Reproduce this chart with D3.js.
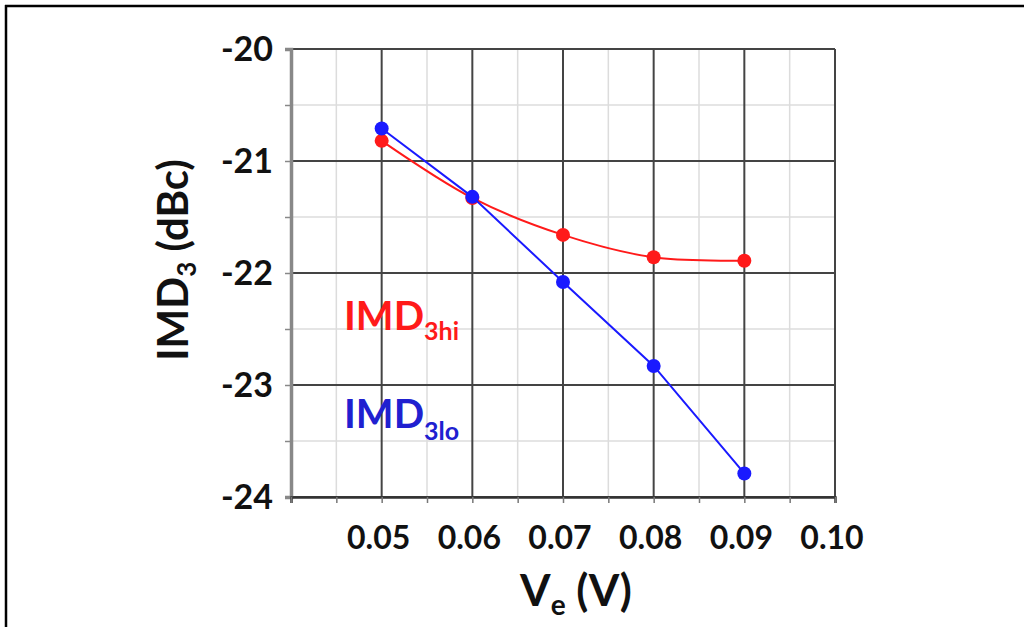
<!DOCTYPE html>
<html><head><meta charset="utf-8">
<script src="https://cdn.jsdelivr.net/npm/d3@7"></script>
<style>
html,body{margin:0;padding:0;background:#fff;}
svg{display:block;font-family:Lato,"Open Sans",sans-serif;font-weight:bold;}
</style></head>
<body><svg id="c" width="1024" height="627"></svg>
<script>
const ve = [0.05, 0.06, 0.07, 0.08, 0.09];
const imd3hi = [-20.82, -21.33, -21.66, -21.86, -21.89];
const imd3lo = [-20.71, -21.32, -22.08, -22.83, -23.79];
const xTicks = [0.05, 0.06, 0.07, 0.08, 0.09, 0.10];
const xTickLabels = ["0.05","0.06","0.07","0.08","0.09","0.10"];
const yTicks = [-20, -21, -22, -23, -24];
const yTickLabels = ["-20","-21","-22","-23","-24"];
const xMinor = [0.045, 0.055, 0.065, 0.075, 0.085, 0.095];
const yMinor = [-20.5, -21.5, -22.5, -23.5];

const svg = d3.select("#c");
const x = d3.scaleLinear().domain([0.04, 0.10]).range([291, 835]);
const y = d3.scaleLinear().domain([-24, -20]).range([497, 49]);

// outer frame (top + left)
svg.append("line").attr("x1",5).attr("x2",1024).attr("y1",6).attr("y2",6).attr("stroke","#000").attr("stroke-width",2.5);
svg.append("line").attr("x1",6).attr("x2",6).attr("y1",5).attr("y2",627).attr("stroke","#000").attr("stroke-width",2.5);

const g = svg.append("g");
g.selectAll(".vmin").data(xMinor).join("line")
  .attr("x1",d=>x(d)).attr("x2",d=>x(d)).attr("y1",y(-20)).attr("y2",y(-24))
  .attr("stroke","#dcdcdc").attr("stroke-width",1.5);
g.selectAll(".hmin").data(yMinor).join("line")
  .attr("y1",d=>y(d)).attr("y2",d=>y(d)).attr("x1",x(0.04)).attr("x2",x(0.10))
  .attr("stroke","#dcdcdc").attr("stroke-width",1.5);
g.selectAll(".vmaj").data(xTicks).join("line")
  .attr("x1",d=>x(d)).attr("x2",d=>x(d)).attr("y1",y(-20)).attr("y2",y(-24))
  .attr("stroke","#444").attr("stroke-width",2);
g.selectAll(".hmaj").data(yTicks).join("line")
  .attr("y1",d=>y(d)).attr("y2",d=>y(d)).attr("x1",x(0.04)).attr("x2",x(0.10))
  .attr("stroke","#444").attr("stroke-width",2);

const allY = yTicks.concat(yMinor);
const yAxis = d3.axisLeft(y).tickValues(allY).tickSize(6).tickFormat("");
svg.append("g").attr("transform",`translate(${x(0.04)},0)`).call(yAxis)
  .call(a=>{a.select(".domain").attr("stroke","#888").attr("stroke-width",3.5);
           a.selectAll(".tick line").attr("stroke","#888").attr("stroke-width",1.5);});
const allX = [0.04].concat(xTicks, xMinor);
const xAxis = d3.axisBottom(x).tickValues(allX).tickSize(6).tickFormat("");
svg.append("g").attr("transform",`translate(0,${y(-24)})`).call(xAxis)
  .call(a=>{a.select(".domain").attr("stroke","#333").attr("stroke-width",2.5);
           a.selectAll(".tick line").attr("stroke","#777").attr("stroke-width",1.5);});

svg.selectAll(".xl").data(xTicks).join("text")
  .attr("x",(d,i)=>x(d)-3).attr("y",549).attr("text-anchor","middle")
  .attr("font-size",32).attr("fill","#111").text((d,i)=>xTickLabels[i]);
svg.selectAll(".yl").data(yTicks).join("text")
  .attr("x",273).attr("y",d=>y(d)+12).attr("text-anchor","end")
  .attr("font-size",34).attr("fill","#111").text((d,i)=>yTickLabels[i]);

const xt = svg.append("text").attr("x",576).attr("y",606).attr("text-anchor","middle").attr("font-size",44).attr("fill","#111");
xt.append("tspan").text("V");
xt.append("tspan").attr("font-size",28).attr("dy",9).text("e");
xt.append("tspan").attr("dy",-9).text(" (V)");

const yt = svg.append("text").attr("transform","translate(188,260) rotate(-90)").attr("text-anchor","middle").attr("font-size",42).attr("fill","#111");
yt.append("tspan").text("IMD");
yt.append("tspan").attr("font-size",26).attr("dy",8).text("3");
yt.append("tspan").attr("dy",-8).text(" (dBc)");

const smooth = d3.line().x(d=>x(d[0])).y(d=>y(d[1])).curve(d3.curveCardinal.tension(0));
const straight = d3.line().x(d=>x(d[0])).y(d=>y(d[1]));
const series = [
  {vals: imd3hi, color:"#ff1a1a", gen: smooth},
  {vals: imd3lo, color:"#1a1aff", gen: straight}
];
series.forEach(s=>{
  const pts = ve.map((v,i)=>[v, s.vals[i]]);
  svg.append("path").datum(pts).attr("d",s.gen).attr("fill","none").attr("stroke",s.color).attr("stroke-width",2);
  svg.selectAll(null).data(pts).join("circle").attr("cx",d=>x(d[0])).attr("cy",d=>y(d[1])).attr("r",7).attr("fill",s.color);
});

const lh = svg.append("text").attr("x",344).attr("y",330).attr("font-size",40).attr("fill","#ff1a1a");
lh.append("tspan").text("IMD");
lh.append("tspan").attr("font-size",25).attr("dy",10).text("3hi");
const ll = svg.append("text").attr("x",344).attr("y",428).attr("font-size",40).attr("fill","#2020d0");
ll.append("tspan").text("IMD");
ll.append("tspan").attr("font-size",25).attr("dy",12).text("3lo");
</script></body></html>
